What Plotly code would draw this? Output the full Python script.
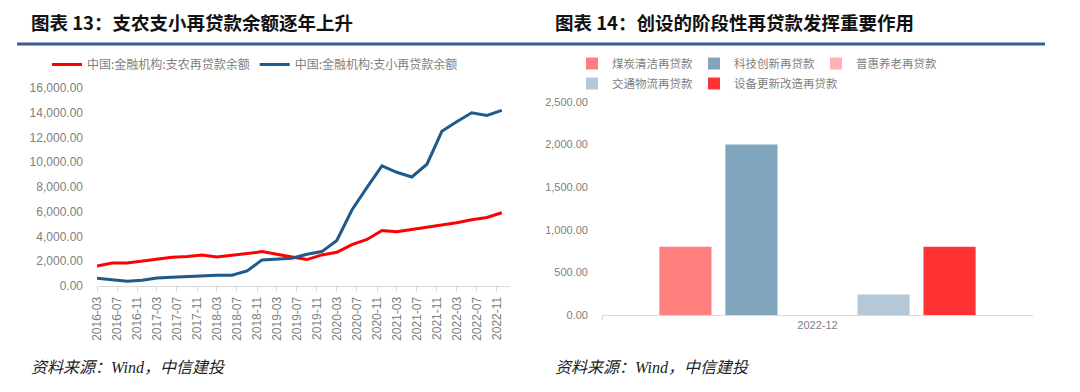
import plotly.graph_objects as go

# ---------------- data: left chart ----------------
dates = ["2016-03", "2016-06", "2016-09", "2016-12",
         "2017-03", "2017-06", "2017-09", "2017-12",
         "2018-03", "2018-06", "2018-09", "2018-12",
         "2019-03", "2019-06", "2019-09", "2019-12",
         "2020-03", "2020-06", "2020-09", "2020-12",
         "2021-03", "2021-06", "2021-09", "2021-12",
         "2022-03", "2022-06", "2022-09", "2022-12"]
agri_loans = [1620, 1865, 1865, 2030, 2160, 2320, 2380, 2510,
              2350, 2460, 2620, 2780, 2540, 2350, 2135, 2510,
              2730, 3350, 3760, 4490, 4380, 4570, 4700, 4920,
              5110, 5350, 5540, 5920]
small_loans = [620, 515, 380, 460, 650, 700, 760, 840,
               865, 865, 1215, 2110, 2160, 2245, 2570, 2780,
               3680, 6140, 7970, 9700, 9190, 8810, 9840, 12500,
               13280, 14000, 13780, 14190]
tick_months = ["2016-03", "2016-07", "2016-11", "2017-03", "2017-07", "2017-11",
               "2018-03", "2018-07", "2018-11", "2019-03", "2019-07", "2019-11",
               "2020-03", "2020-07", "2020-11", "2021-03", "2021-07", "2021-11",
               "2022-03", "2022-07", "2022-11"]
left_series = ["中国:金融机构:支农再贷款余额", "中国:金融机构:支小再贷款余额"]

# ---------------- data: right chart ----------------
bar_category = ["2022-12"]
bar_names = ["煤炭清洁再贷款", "科技创新再贷款", "普惠养老再贷款", "交通物流再贷款", "设备更新改造再贷款"]
bar_values = [800, 2000, None, 240, 800]
bar_colors = ["#FF7F7F", "#82A5BE", "#FFB3B3", "#B4C8D7", "#FF3333"]
bar_legend = ["legend2", "legend2", "legend2", "legend3", "legend3"]
bar_legend_width = [77, 77, 77, 77, 110]

W, H = 1080, 392
def px(x):
    return x / W
def py(y):
    return 1 - y / H

GREY = "#808080"
CJK = "Noto Sans CJK SC"
NUM = "Liberation Sans"

fig = go.Figure()

fig.add_trace(go.Scatter(x=[d + "-01" for d in dates], y=agri_loans, mode="lines",
                         name=left_series[0], line=dict(color="#FF0000", width=3),
                         xaxis="x", yaxis="y", legend="legend"))
fig.add_trace(go.Scatter(x=[d + "-01" for d in dates], y=small_loans, mode="lines",
                         name=left_series[1], line=dict(color="#1F5A8A", width=3),
                         xaxis="x", yaxis="y", legend="legend"))

for name, val, col, lg, lw in zip(bar_names, bar_values, bar_colors, bar_legend, bar_legend_width):
    fig.add_trace(go.Bar(x=bar_category, y=[val], name=name, marker=dict(color=col, line=dict(width=0)),
                         xaxis="x2", yaxis="y2", legend=lg, legendwidth=lw))

fig.update_layout(
    width=W, height=H,
    margin=dict(l=0, r=0, t=0, b=0, autoexpand=False),
    paper_bgcolor="white", plot_bgcolor="white",
    barmode="group", bargap=0.234, bargroupgap=0.21,
    xaxis=dict(domain=[px(97), px(510)], type="date",
               range=["2016-03-01", "2023-01-20"],
               tickvals=[m + "-01" for m in tick_months], ticktext=tick_months,
               tickangle=-90, tickfont=dict(family=NUM, size=12, color=GREY),
               showline=True, linecolor="#D9D9D9", linewidth=1,
               ticks="outside", ticklen=5, tickcolor="#D9D9D9",
               showgrid=False, zeroline=False, anchor="y", automargin=False),
    yaxis=dict(domain=[py(286), py(88)], range=[0, 16000],
               tickvals=[0, 2000, 4000, 6000, 8000, 10000, 12000, 14000, 16000],
               tickformat=",.2f", tickfont=dict(family=NUM, size=12, color=GREY),
               showgrid=False, zeroline=False, showline=False, ticklabelstandoff=13,
               anchor="x", automargin=False),
    xaxis2=dict(domain=[px(602), px(1033)], type="category",
                tickfont=dict(family=NUM, size=11, color=GREY),
                showline=True, linecolor="#D9D9D9", linewidth=1,
                ticks="outside", tickson="boundaries", ticklen=4, tickcolor="#D9D9D9",
                showgrid=False, zeroline=False, anchor="y2", automargin=False),
    yaxis2=dict(domain=[py(315), py(102)], range=[0, 2500],
                tickvals=[0, 500, 1000, 1500, 2000, 2500],
                tickformat=",.2f", tickfont=dict(family=NUM, size=11, color=GREY),
                showgrid=False, zeroline=False, showline=False, ticklabelstandoff=13,
                anchor="x2", automargin=False),
    legend=dict(orientation="h", x=px(47), y=py(50), xanchor="left", yanchor="top",
                font=dict(family=CJK, size=12, color=GREY), itemwidth=30,
                bgcolor="rgba(0,0,0,0)"),
    legend2=dict(orientation="h", x=px(572), y=py(49), xanchor="left", yanchor="top",
                 font=dict(family=CJK, size=11.5, color=GREY),
                 itemwidth=30, bgcolor="rgba(0,0,0,0)"),
    legend3=dict(orientation="h", x=px(572), y=py(69), xanchor="left", yanchor="top",
                 font=dict(family=CJK, size=11.5, color=GREY),
                 itemwidth=30, bgcolor="rgba(0,0,0,0)"),
    showlegend=True,
)

# titles
fig.add_annotation(text="<b>图表 13：支农支小再贷款余额逐年上升</b>", xref="paper", yref="paper",
                   x=px(29), y=py(22), xanchor="left", yanchor="middle", showarrow=False,
                   font=dict(family=CJK, size=18.5, color="#111111"))
fig.add_annotation(text="<b>图表 14：创设的阶段性再贷款发挥重要作用</b>", xref="paper", yref="paper",
                   x=px(553), y=py(22), xanchor="left", yanchor="middle", showarrow=False,
                   font=dict(family=CJK, size=18.5, color="#111111"))
# sources
for xs in (29, 553):
    fig.add_annotation(text="<i>资料来源：Wind，中信建投</i>", xref="paper", yref="paper",
                       x=px(xs), y=py(367), xanchor="left", yanchor="middle", showarrow=False,
                       font=dict(family="Liberation Serif, " + CJK, size=16, color="#222222"))

# blue separator rule
fig.add_shape(type="line", xref="paper", yref="paper", x0=px(17), x1=px(1045),
              y0=py(44), y1=py(44), line=dict(color="#3A5C99", width=3))

fig.write_html("out.html", config={"displayModeBar": False},
               post_script="document.body.style.margin='0';document.body.style.overflow='hidden';")
